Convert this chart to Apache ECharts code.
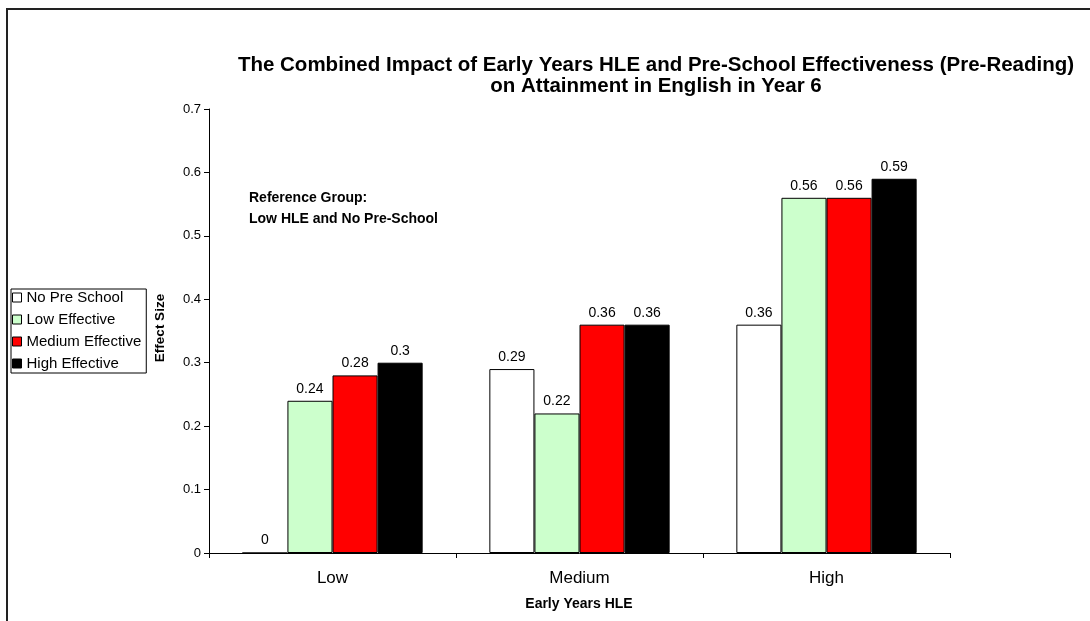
<!DOCTYPE html>
<html>
<head>
<meta charset="utf-8">
<script src="https://cdn.jsdelivr.net/npm/echarts@6/dist/echarts.min.js"></script>
<style>
html,body{margin:0;padding:0;background:#fff;}
#chart{width:1090px;height:621px;}
</style>
</head>
<body>
<div id="chart"></div>
<script>
// ---- data ----
const categories = ['Low', 'Medium', 'High'];
const seriesNames = ['No Pre School', 'Low Effective', 'Medium Effective', 'High Effective'];
const noPreSchool = [0, 0.29, 0.36];
const lowEffective = [0.24, 0.22, 0.56];
const mediumEffective = [0.28, 0.36, 0.56];
const highEffective = [0.3, 0.36, 0.59];
const titleLines = ['The Combined Impact of Early Years HLE and Pre-School Effectiveness (Pre-Reading)', 'on Attainment in English in Year 6'];
const yAxisTitle = 'Effect Size';
const xAxisTitle = 'Early Years HLE';
const noteLines = ['Reference Group:', 'Low HLE and No Pre-School'];

const FONT = "'Liberation Sans', Arial, sans-serif";
const colors = ['#FFFFFF', '#CCFFCC', '#FF0000', '#000000'];
const values = [noPreSchool, lowEffective, mediumEffective, highEffective];

const chart = echarts.init(document.getElementById('chart'), null, {renderer: 'canvas'});

const series = seriesNames.map((name, i) => ({
  name: name,
  type: 'bar',
  data: values[i],
  barGap: '0%',
  barCategoryGap: '27%',
  itemStyle: {color: colors[i], borderColor: '#000', borderWidth: 1},
  label: {show: true, position: 'top', distance: 5, color: '#000', fontSize: 14, fontFamily: FONT},
  emphasis: {disabled: true},
  animation: false
}));

chart.setOption({
  animation: false,
  backgroundColor: '#fff',
  textStyle: {fontFamily: FONT},
  title: {
    text: titleLines.join('\n'),
    left: 656,
    top: 55,
    textAlign: 'center',
    padding: 0,
    textStyle: {fontFamily: FONT, fontSize: 20.5, fontWeight: 'bold', lineHeight: 21, color: '#000'}
  },
  legend: {
    orient: 'vertical',
    left: 11,
    top: 289,
    padding: [1, 5, 2, 1],
    itemWidth: 9,
    itemHeight: 9,
    itemGap: 7,
    itemTextGap: 8,
    icon: 'rect',
    borderColor: '#000',
    borderWidth: 1,
    selectedMode: false,
    itemStyle: {borderColor: '#000', borderWidth: 1},
    textStyle: {fontFamily: FONT, fontSize: 15, color: '#000', lineHeight: 14},
    data: seriesNames
  },
  grid: {left: 209, right: 140, top: 109, bottom: 68, containLabel: false},
  xAxis: {
    type: 'category',
    data: categories,
    axisLine: {lineStyle: {color: '#000', width: 1}},
    axisTick: {show: true, length: 5, alignWithLabel: false, lineStyle: {color: '#000'}},
    axisLabel: {color: '#000', fontSize: 17, margin: 17, fontFamily: FONT},
    splitLine: {show: false}
  },
  yAxis: {
    type: 'value',
    min: 0,
    max: 0.7,
    interval: 0.1,
    axisLine: {show: true, lineStyle: {color: '#000', width: 1}},
    axisTick: {show: true, length: 5, lineStyle: {color: '#000'}},
    axisLabel: {color: '#000', fontSize: 13, margin: 8, fontFamily: FONT},
    splitLine: {show: false}
  },
  series: series,
  graphic: [
    {type: 'line', shape: {x1: 6, y1: 9, x2: 1090, y2: 9}, style: {stroke: '#222', lineWidth: 2}, silent: true},
    {type: 'line', shape: {x1: 7, y1: 8, x2: 7, y2: 621}, style: {stroke: '#222', lineWidth: 2}, silent: true},
    {type: 'text', x: 160, y: 328, rotation: Math.PI / 2,
      style: {text: yAxisTitle, align: 'center', verticalAlign: 'middle', font: 'bold 13.5px ' + FONT, fill: '#000'}},
    {type: 'text', x: 579, y: 604,
      style: {text: xAxisTitle, align: 'center', verticalAlign: 'middle', font: 'bold 14px ' + FONT, fill: '#000'}},
    {type: 'text', x: 249, y: 188,
      style: {text: noteLines.join('\n'), align: 'left', verticalAlign: 'top', font: 'bold 14px ' + FONT, lineHeight: 21, fill: '#000'}}
  ]
});
</script>
</body>
</html>
